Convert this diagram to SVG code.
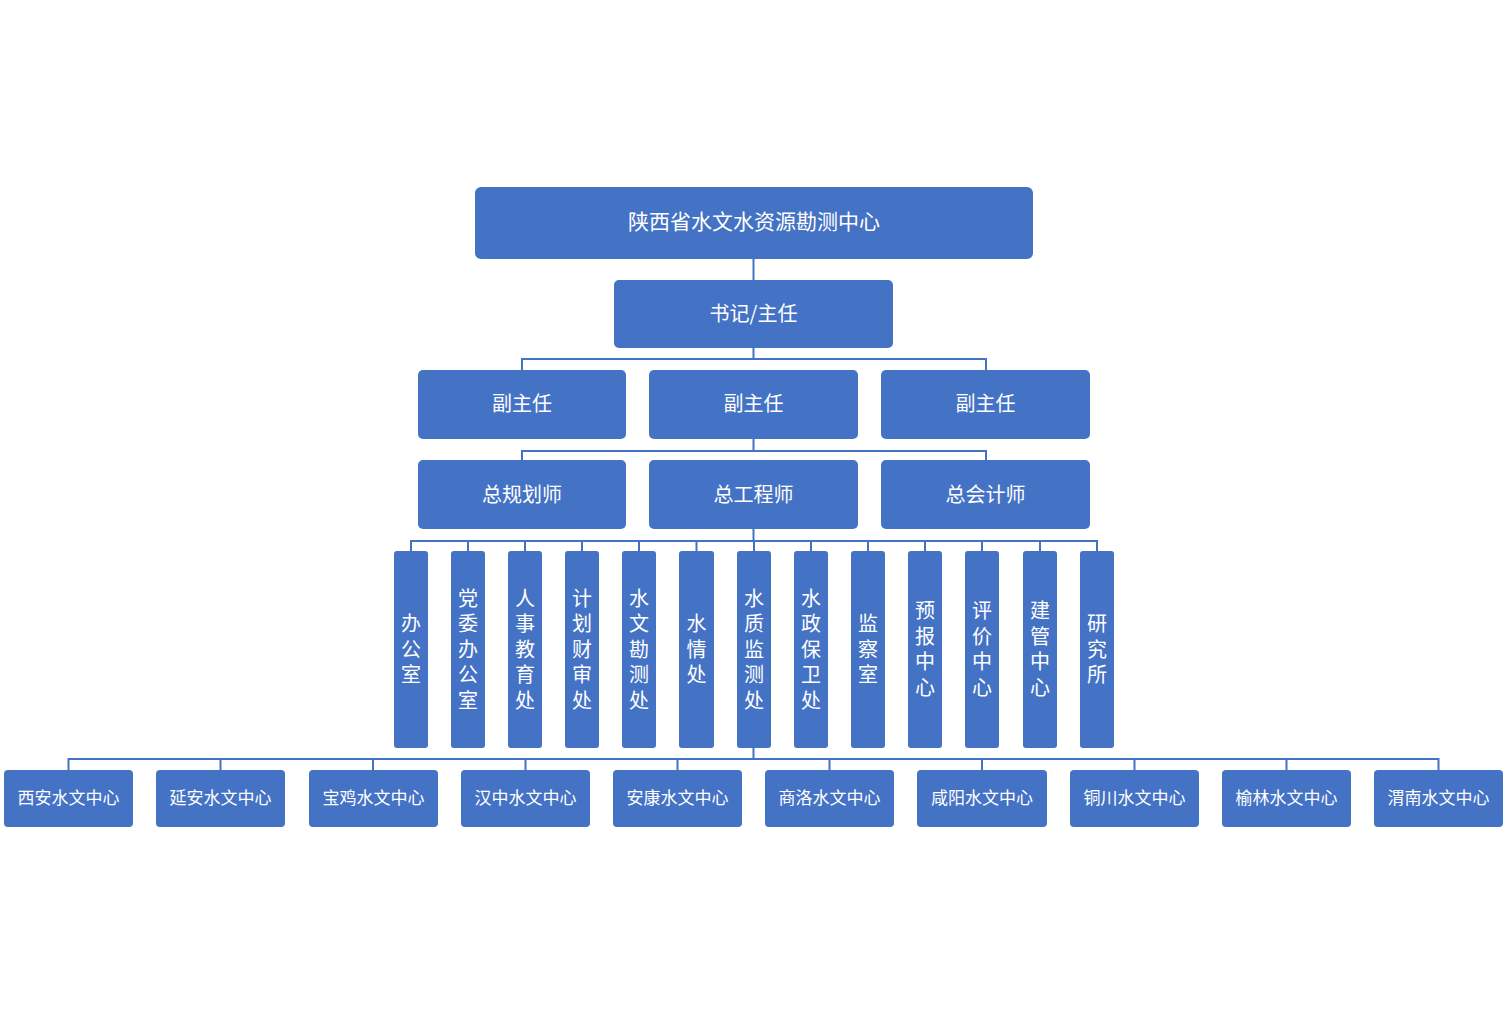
<svg xmlns="http://www.w3.org/2000/svg" width="1507" height="1015" viewBox="0 0 1507 1015">
<style>
.b{fill:#4472C4;}
.t{fill:#fff;font-family:"Noto Sans CJK SC","Noto Sans",sans-serif;text-anchor:middle;dominant-baseline:central;}
.l{font-size:20px;}
.x{font-size:21px;}
.s{font-size:17px;}
.c{fill:none;stroke:#4472C4;stroke-width:2;}
</style>
<rect width="1507" height="1015" fill="#fff"/>
<g id="connectors">
<path class="c" d="M753.5 259V280"/>
<path class="c" d="M753.5 348V359M522 370V359H986V370"/>
<path class="c" d="M753.5 439V451M522 460V451H986V451V460"/>
<path class="c" d="M753.5 529V541M411 551V541H1097V551M468 541V551M525 541V551M582 541V551M639 541V551M696.5 541V551M754 541V551M811 541V551M868 541V551M925 541V551M982 541V551M1040 541V551"/>
<path class="c" d="M753.5 748V759M68.5 770V759H1438.5V770M220.5 759V770M373 759V770M525.5 759V770M677.5 759V770M829.5 759V770M982 759V770M1134.5 759V770M1286.5 759V770"/>
</g>
<g id="n_root"><rect class="b" x="475" y="187" width="558" height="72" rx="6"/><text class="t x" x="754" y="220">陕西省水文水资源勘测中心</text></g>
<g id="n_sec"><rect class="b" x="614" y="280" width="279" height="68" rx="5"/><text class="t l" x="753.5" y="312">书记/主任</text></g>
<g id="n_vd1"><rect class="b" x="418" y="370" width="208" height="69" rx="5"/><text class="t l" x="522" y="402.5">副主任</text></g>
<g id="n_vd2"><rect class="b" x="649" y="370" width="209" height="69" rx="5"/><text class="t l" x="753.5" y="402.5">副主任</text></g>
<g id="n_vd3"><rect class="b" x="881" y="370" width="209" height="69" rx="5"/><text class="t l" x="985.5" y="402.5">副主任</text></g>
<g id="n_c1"><rect class="b" x="418" y="460" width="208" height="69" rx="5"/><text class="t l" x="522" y="493">总规划师</text></g>
<g id="n_c2"><rect class="b" x="649" y="460" width="209" height="69" rx="5"/><text class="t l" x="753.5" y="493">总工程师</text></g>
<g id="n_c3"><rect class="b" x="881" y="460" width="209" height="69" rx="5"/><text class="t l" x="985.5" y="493">总会计师</text></g>
<g id="n_d1"><rect class="b" x="394" y="551" width="34" height="197" rx="3"/><text class="t l"><tspan x="411" y="622">办</tspan><tspan x="411" y="647.5">公</tspan><tspan x="411" y="673">室</tspan></text></g>
<g id="n_d2"><rect class="b" x="451" y="551" width="34" height="197" rx="3"/><text class="t l"><tspan x="468" y="596.5">党</tspan><tspan x="468" y="622">委</tspan><tspan x="468" y="647.5">办</tspan><tspan x="468" y="673">公</tspan><tspan x="468" y="698.5">室</tspan></text></g>
<g id="n_d3"><rect class="b" x="508" y="551" width="34" height="197" rx="3"/><text class="t l"><tspan x="525" y="596.5">人</tspan><tspan x="525" y="622">事</tspan><tspan x="525" y="647.5">教</tspan><tspan x="525" y="673">育</tspan><tspan x="525" y="698.5">处</tspan></text></g>
<g id="n_d4"><rect class="b" x="565" y="551" width="34" height="197" rx="3"/><text class="t l"><tspan x="582" y="596.5">计</tspan><tspan x="582" y="622">划</tspan><tspan x="582" y="647.5">财</tspan><tspan x="582" y="673">审</tspan><tspan x="582" y="698.5">处</tspan></text></g>
<g id="n_d5"><rect class="b" x="622" y="551" width="34" height="197" rx="3"/><text class="t l"><tspan x="639" y="596.5">水</tspan><tspan x="639" y="622">文</tspan><tspan x="639" y="647.5">勘</tspan><tspan x="639" y="673">测</tspan><tspan x="639" y="698.5">处</tspan></text></g>
<g id="n_d6"><rect class="b" x="679" y="551" width="35" height="197" rx="3"/><text class="t l"><tspan x="696.5" y="622">水</tspan><tspan x="696.5" y="647.5">情</tspan><tspan x="696.5" y="673">处</tspan></text></g>
<g id="n_d7"><rect class="b" x="737" y="551" width="34" height="197" rx="3"/><text class="t l"><tspan x="754" y="596.5">水</tspan><tspan x="754" y="622">质</tspan><tspan x="754" y="647.5">监</tspan><tspan x="754" y="673">测</tspan><tspan x="754" y="698.5">处</tspan></text></g>
<g id="n_d8"><rect class="b" x="794" y="551" width="34" height="197" rx="3"/><text class="t l"><tspan x="811" y="596.5">水</tspan><tspan x="811" y="622">政</tspan><tspan x="811" y="647.5">保</tspan><tspan x="811" y="673">卫</tspan><tspan x="811" y="698.5">处</tspan></text></g>
<g id="n_d9"><rect class="b" x="851" y="551" width="34" height="197" rx="3"/><text class="t l"><tspan x="868" y="622">监</tspan><tspan x="868" y="647.5">察</tspan><tspan x="868" y="673">室</tspan></text></g>
<g id="n_d10"><rect class="b" x="908" y="551" width="34" height="197" rx="3"/><text class="t l"><tspan x="925" y="609">预</tspan><tspan x="925" y="634.5">报</tspan><tspan x="925" y="660">中</tspan><tspan x="925" y="685.5">心</tspan></text></g>
<g id="n_d11"><rect class="b" x="965" y="551" width="34" height="197" rx="3"/><text class="t l"><tspan x="982" y="609">评</tspan><tspan x="982" y="634.5">价</tspan><tspan x="982" y="660">中</tspan><tspan x="982" y="685.5">心</tspan></text></g>
<g id="n_d12"><rect class="b" x="1023" y="551" width="34" height="197" rx="3"/><text class="t l"><tspan x="1040" y="609">建</tspan><tspan x="1040" y="634.5">管</tspan><tspan x="1040" y="660">中</tspan><tspan x="1040" y="685.5">心</tspan></text></g>
<g id="n_d13"><rect class="b" x="1080" y="551" width="34" height="197" rx="3"/><text class="t l"><tspan x="1097" y="622">研</tspan><tspan x="1097" y="647.5">究</tspan><tspan x="1097" y="673">所</tspan></text></g>
<g id="n_s1"><rect class="b" x="4" y="770" width="129" height="57" rx="4"/><text class="t s" x="68.5" y="796.5">西安水文中心</text></g>
<g id="n_s2"><rect class="b" x="156" y="770" width="129" height="57" rx="4"/><text class="t s" x="220.5" y="796.5">延安水文中心</text></g>
<g id="n_s3"><rect class="b" x="309" y="770" width="129" height="57" rx="4"/><text class="t s" x="373.5" y="796.5">宝鸡水文中心</text></g>
<g id="n_s4"><rect class="b" x="461" y="770" width="129" height="57" rx="4"/><text class="t s" x="525.5" y="796.5">汉中水文中心</text></g>
<g id="n_s5"><rect class="b" x="613" y="770" width="129" height="57" rx="4"/><text class="t s" x="677.5" y="796.5">安康水文中心</text></g>
<g id="n_s6"><rect class="b" x="765" y="770" width="129" height="57" rx="4"/><text class="t s" x="829.5" y="796.5">商洛水文中心</text></g>
<g id="n_s7"><rect class="b" x="917" y="770" width="130" height="57" rx="4"/><text class="t s" x="982" y="796.5">咸阳水文中心</text></g>
<g id="n_s8"><rect class="b" x="1070" y="770" width="129" height="57" rx="4"/><text class="t s" x="1134.5" y="796.5">铜川水文中心</text></g>
<g id="n_s9"><rect class="b" x="1222" y="770" width="129" height="57" rx="4"/><text class="t s" x="1286.5" y="796.5">榆林水文中心</text></g>
<g id="n_s10"><rect class="b" x="1374" y="770" width="129" height="57" rx="4"/><text class="t s" x="1438.5" y="796.5">渭南水文中心</text></g>
</svg>
